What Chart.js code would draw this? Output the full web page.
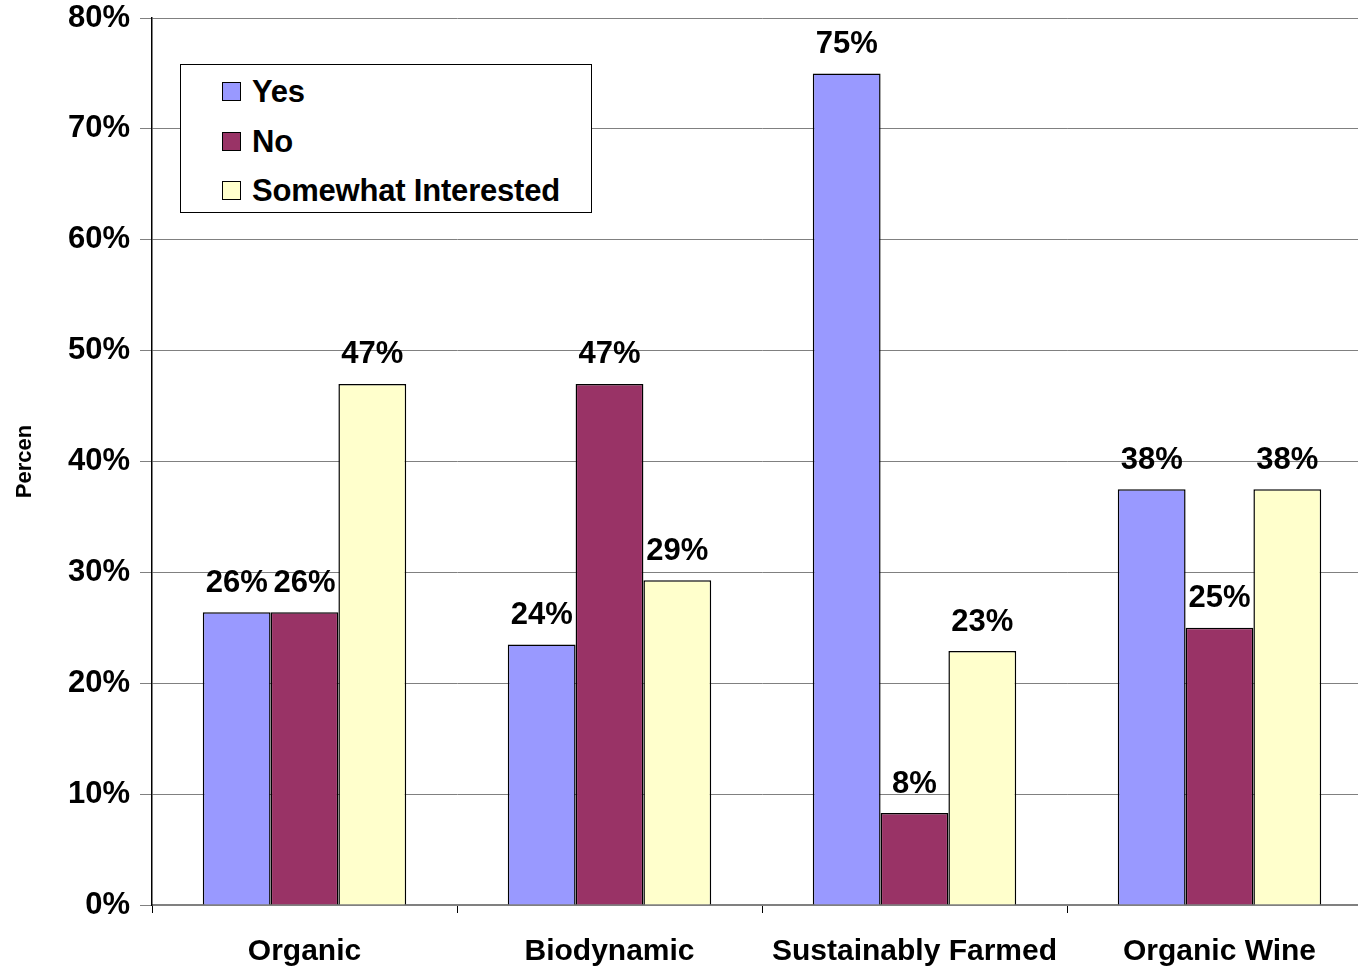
<!DOCTYPE html>
<html>
<head>
<meta charset="utf-8">
<script src="https://cdn.jsdelivr.net/npm/chart.js@4"></script>
<style>
  body { margin: 0; background: #fff; overflow: hidden; }
  #wrap { position: relative; width: 1358px; height: 969px; overflow: hidden; }
  #legend {
    position: absolute; left: 180px; top: 64px; width: 410px; height: 147px;
    border: 1px solid #000; background: #fff;
    font: bold 31px "Liberation Sans", Arial, sans-serif; letter-spacing: -0.2px;
  }
  .item { position: absolute; left: 41px; height: 36px; line-height: 36px; }
  .sw { position: absolute; left: 0; top: 8px; width: 17px; height: 17px; border: 1px solid #000; }
  .txt { position: absolute; left: 30px; white-space: nowrap; }
</style>
</head>
<body>
<div id="wrap">
  <!-- plot area runs past the right edge of the picture, as in the original -->
  <canvas id="chart" width="1372" height="969"></canvas>
  <div id="legend"></div>
</div>
<script>
const categories = ["Organic", "Biodynamic", "Sustainably Farmed", "Organic Wine"];
const yesValues = [26.4, 23.5, 75, 37.5];
const noValues = [26.4, 47, 8.3, 25];
const somewhatValues = [47, 29.3, 22.9, 37.5];
const yTicks = [0, 10, 20, 30, 40, 50, 60, 70, 80];

const FONT = "'Liberation Sans', Arial, sans-serif";

// value labels above each bar
const barLabels = {
    id: "barLabels",
    afterDatasetsDraw(chart) {
        const ctx = chart.ctx;
        ctx.save();
        ctx.font = "bold 31px " + FONT;
        ctx.fillStyle = "#000";
        ctx.textAlign = "center";
        ctx.textBaseline = "middle";
        chart.data.datasets.forEach((ds, i) => {
            chart.getDatasetMeta(i).data.forEach((bar, j) => {
                ctx.fillText(Math.round(ds.data[j]) + "%", bar.x, bar.y - 29);
            });
        });
        ctx.restore();
    }
};

const chart = new Chart(document.getElementById("chart"), {
    type: "bar",
    data: {
        labels: categories,
        datasets: [
            { label: "Yes", data: yesValues, backgroundColor: "#9999ff" },
            { label: "No", data: noValues, backgroundColor: "#993366" },
            { label: "Somewhat Interested", data: somewhatValues, backgroundColor: "#ffffcc" }
        ]
    },
    options: {
        responsive: false,
        animation: false,
        layout: { padding: { top: 18, right: 0, left: 0, bottom: 0 } },
        datasets: {
            bar: {
                borderColor: "#000",
                borderWidth: 1.5,
                borderSkipped: "bottom",
                categoryPercentage: 0.667,
                barPercentage: 1
            }
        },
        scales: {
            x: {
                offset: true,
                grid: {
                    offset: true,
                    drawOnChartArea: false,
                    drawTicks: true,
                    tickLength: 8,
                    color: "#000"
                },
                border: { color: "#808080", width: 1.5 },
                ticks: {
                    color: "#000",
                    padding: 21,
                    maxRotation: 0,
                    font: { family: FONT, size: 30, weight: "bold" }
                },
                afterFit(scale) {
                    scale.height = 64;
                    scale.paddingLeft = 0;
                    scale.paddingRight = 0;
                }
            },
            y: {
                min: 0,
                max: 80,
                afterBuildTicks(scale) { scale.ticks = yTicks.map(v => ({ value: v })); },
                grid: { color: "#808080", lineWidth: 1, tickLength: 12 },
                border: { color: "#000", width: 1.5 },
                ticks: {
                    color: "#000",
                    padding: 10,
                    callback: v => v + "%",
                    font: { family: FONT, size: 31, weight: "bold" }
                },
                title: {
                    display: true,
                    text: "Percen",
                    color: "#000",
                    padding: { top: 12, bottom: 0 },
                    font: { family: FONT, size: 22, weight: "bold" }
                },
                afterFit(scale) {
                    scale.width = 152;
                    scale.paddingTop = 0;
                    scale.paddingBottom = 0;
                }
            }
        },
        plugins: {
            legend: { display: false },
            tooltip: { enabled: false }
        }
    },
    plugins: [barLabels]
});

// legend box built from the datasets
const legendEl = document.getElementById("legend");
chart.data.datasets.forEach((ds, i) => {
    const item = document.createElement("div");
    item.className = "item";
    item.style.top = (9 + i * 49.5) + "px";
    item.innerHTML = '<span class="sw" style="background:' + ds.backgroundColor + '"></span>' +
        '<span class="txt">' + ds.label + '</span>';
    legendEl.appendChild(item);
});
</script>
</body>
</html>
